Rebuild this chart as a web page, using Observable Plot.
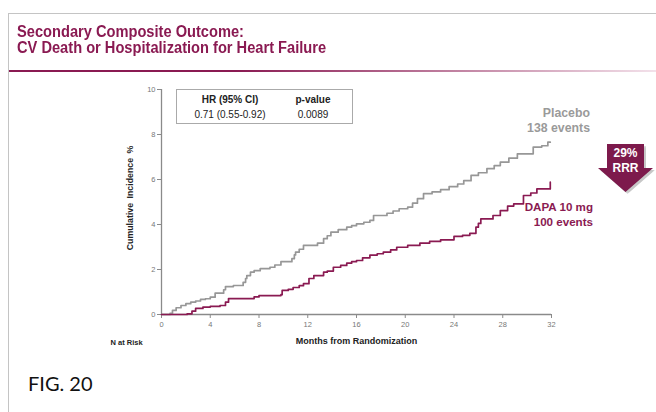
<!DOCTYPE html>
<html><head><meta charset="utf-8">
<script src="https://cdn.jsdelivr.net/npm/d3@7"></script>
<script src="https://cdn.jsdelivr.net/npm/@observablehq/plot@0.6"></script>
<style>
body{margin:0;background:#fff;}
#page{position:relative;width:656px;height:412px;overflow:hidden;font-family:"Liberation Sans",Arial,sans-serif;background:#fff;}
#frame{position:absolute;left:8px;top:13px;right:-2px;bottom:-2px;border-left:1.5px solid #c4c4c4;border-top:1.5px solid #c4c4c4;}
.tl{position:absolute;left:17px;color:#8a1a52;font-weight:bold;font-size:16px;line-height:16px;height:16px;white-space:nowrap;transform:scaleX(0.915);transform-origin:0 0;}
#rule{position:absolute;left:9px;top:70px;width:647px;height:2px;background:linear-gradient(to right,#8a1a52 0%,#8a1a52 35%,#f3e1ea 100%);}
#chart{position:absolute;left:0;top:75px;}
#tbl{position:absolute;left:176px;top:89px;width:177px;height:35px;border:1px solid #aaa;box-sizing:border-box;font-size:10px;line-height:12px;color:#222;}
#tbl div{position:absolute;transform:translateX(-50%);white-space:nowrap;}
.lab{position:absolute;font-weight:bold;line-height:14.5px;text-align:right;white-space:nowrap;}
.arrowShape{clip-path:polygon(16.4% 0,83.6% 0,83.6% 50%,100% 50%,50% 100%,0 50%,16.4% 50%);}
#arrow{position:absolute;left:598px;top:144px;width:55px;height:48px;background:#7d1a4c;}
#arrowShadow{position:absolute;left:600px;top:146px;width:55px;height:48px;background:rgba(0,0,0,0.22);filter:blur(1.5px);}
#arrowText{position:absolute;left:598px;top:146px;width:55px;text-align:center;color:#fff;font-weight:bold;font-size:12px;line-height:15px;}
#fig{position:absolute;left:28px;top:371px;font-family:Lato,"Open Sans",sans-serif;font-size:20px;color:#111;}
</style></head>
<body>
<div id="page">
  <div id="frame"></div>
  <div id="title1" class="tl" style="top:24px;"></div>
  <div id="title2" class="tl" style="top:40px;"></div>
  <div id="rule"></div>
  <div id="chart"></div>
  <div id="tbl"></div>
  <div id="placeboLab" class="lab" style="right:66px;top:106px;color:#9a9a9a;font-size:12.3px;"></div>
  <div id="dapaLab" class="lab" style="right:63px;top:200px;color:#8a1a52;font-size:11.6px;"></div>
  <div id="arrowShadow" class="arrowShape"></div>
  <div id="arrow" class="arrowShape"></div>
  <div id="arrowText"></div>
  <div id="fig"></div>
</div>
<script>
// ---- data ----
const titleLines = ["Secondary Composite Outcome:", "CV Death or Hospitalization for Heart Failure"];
const figLabel = "FIG. 20";
const xLabel = "Months from Randomization";
const yLabel = "Cumulative\u2002Incidence\u2002%";
const riskLabel = "N at Risk";
const xTicks = [0, 4, 8, 12, 16, 20, 24, 28, 32];
const yTicks = [0, 2, 4, 6, 8, 10];
const tableHeader = ["HR (95% CI)", "p-value"];
const tableRow = ["0.71 (0.55-0.92)", "0.0089"];
const placeboLabel = ["Placebo", "138 events"];
const dapaLabel = ["DAPA 10 mg", "100 events"];
const arrowLabel = ["29%", "RRR"];

const placeboMonths = [0, 0.7, 0.9, 1.2, 1.6, 2.0, 2.4, 2.8, 3.2, 3.6, 4.0, 4.4, 5.1, 5.25, 5.9, 6.7, 6.9, 7.0, 7.3, 7.6, 8.1, 8.9, 9.3, 9.8, 10.7, 10.9, 11.0, 11.3, 11.65, 12.8, 13.3, 13.6, 13.9, 14.5, 15.2, 15.6, 16.0, 16.6, 17.1, 17.4, 18.5, 19.0, 19.5, 20.2, 20.6, 21.0, 21.5, 22.2, 22.9, 23.6, 24.3, 24.8, 25.4, 26.0, 26.7, 27.3, 27.8, 28.5, 29.2, 30.5, 31.2, 31.7, 31.9];
const placeboValues = [0, 0.05, 0.18, 0.3, 0.4, 0.48, 0.55, 0.6, 0.67, 0.7, 0.77, 0.95, 1.1, 1.24, 1.29, 1.43, 1.6, 1.73, 1.88, 1.95, 2.04, 2.1, 2.2, 2.35, 2.48, 2.65, 2.77, 2.9, 3.07, 3.17, 3.37, 3.5, 3.66, 3.77, 3.88, 3.95, 4.03, 4.1, 4.18, 4.4, 4.5, 4.6, 4.7, 4.77, 4.95, 5.15, 5.37, 5.45, 5.55, 5.68, 5.8, 5.95, 6.18, 6.3, 6.48, 6.62, 6.77, 6.95, 7.14, 7.44, 7.5, 7.66, 7.66];
const dapaMonths = [0, 2.1, 2.5, 2.8, 3.4, 4.0, 4.8, 5.25, 5.5, 7.3, 7.6, 8.0, 9.8, 9.9, 10.4, 10.8, 11.3, 11.65, 12.1, 12.5, 13.3, 13.6, 14.1, 14.7, 15.2, 15.6, 16.0, 16.5, 17.1, 17.7, 18.2, 18.8, 19.3, 20.2, 21.2, 22.0, 22.9, 24.0, 24.7, 25.3, 25.8, 26.0, 26.2, 27.2, 27.8, 28.4, 28.9, 29.7, 30.3, 30.8, 31.9];
const dapaValues = [0, 0.03, 0.15, 0.27, 0.33, 0.36, 0.4, 0.55, 0.71, 0.71, 0.78, 0.84, 0.88, 1.07, 1.12, 1.2, 1.28, 1.37, 1.6, 1.73, 1.88, 1.93, 2.1, 2.18, 2.28, 2.35, 2.4, 2.52, 2.64, 2.7, 2.77, 2.87, 2.99, 3.07, 3.17, 3.25, 3.32, 3.47, 3.52, 3.61, 3.88, 4.05, 4.25, 4.4, 4.62, 4.82, 4.92, 5.29, 5.4, 5.58, 5.88];

const placebo = placeboMonths.map((m, i) => ({month: m, value: placeboValues[i]}));
const dapa = dapaMonths.map((m, i) => ({month: m, value: dapaValues[i]}));

// ---- text blocks ----
document.getElementById("title1").textContent = titleLines[0];
document.getElementById("title2").textContent = titleLines[1];
document.getElementById("fig").textContent = figLabel;
document.getElementById("placeboLab").innerHTML = placeboLabel.join("<br>");
document.getElementById("dapaLab").innerHTML = dapaLabel.join("<br>");
document.getElementById("arrowText").innerHTML = arrowLabel.join("<br>");
const tbl = document.getElementById("tbl");
const cols = [53, 136];
tableHeader.forEach((t, i) => { const d = document.createElement("div"); d.textContent = t; d.style.left = cols[i] + "px"; d.style.top = "4px"; d.style.fontWeight = "bold"; tbl.appendChild(d); });
tableRow.forEach((t, i) => { const d = document.createElement("div"); d.textContent = t; d.style.left = cols[i] + "px"; d.style.top = "19px"; tbl.appendChild(d); });

// ---- chart ----
const axisColor = "#8a8a8a";
const chart = Plot.plot({
  width: 656,
  height: 280,
  marginLeft: 161,
  marginRight: 105,
  marginTop: 14,
  marginBottom: 41,
  style: {fontFamily: "'Liberation Sans', Arial, sans-serif", background: "transparent", overflow: "visible"},
  x: {domain: [0, 32]},
  y: {domain: [0, 10]},
  marks: [
    Plot.ruleX([0], {stroke: axisColor, strokeWidth: 1.3}),
    Plot.ruleY([0], {stroke: axisColor, strokeWidth: 1.3}),
    Plot.axisX({ticks: xTicks, tickSize: 4, tickPadding: 3, fontSize: 7.5, color: "#777", stroke: axisColor, label: null}),
    Plot.axisY({ticks: yTicks, tickSize: 4, tickPadding: 2, fontSize: 7.5, color: "#777", stroke: axisColor, label: null}),
    Plot.line(placebo, {x: "month", y: "value", curve: "step-after", stroke: "#979797", strokeWidth: 1.7}),
    Plot.line(dapa, {x: "month", y: "value", curve: "step-after", stroke: "#8a1a52", strokeWidth: 1.7}),
    Plot.text([xLabel], {text: d => d, frameAnchor: "bottom", dy: 29, fontSize: 9, fontWeight: "bold", fill: "#222"}),
    Plot.text([yLabel], {text: d => d, frameAnchor: "left", textAnchor: "middle", dx: -31, dy: -4, rotate: -90, fontSize: 8.8, fontWeight: "bold", fill: "#222"}),
    Plot.text([riskLabel], {text: d => d, frameAnchor: "bottom-left", dx: -51, dy: 30, textAnchor: "start", fontSize: 7.5, fontWeight: "bold", fill: "#222"})
  ]
});
document.getElementById("chart").appendChild(chart);
</script>
</body></html>
